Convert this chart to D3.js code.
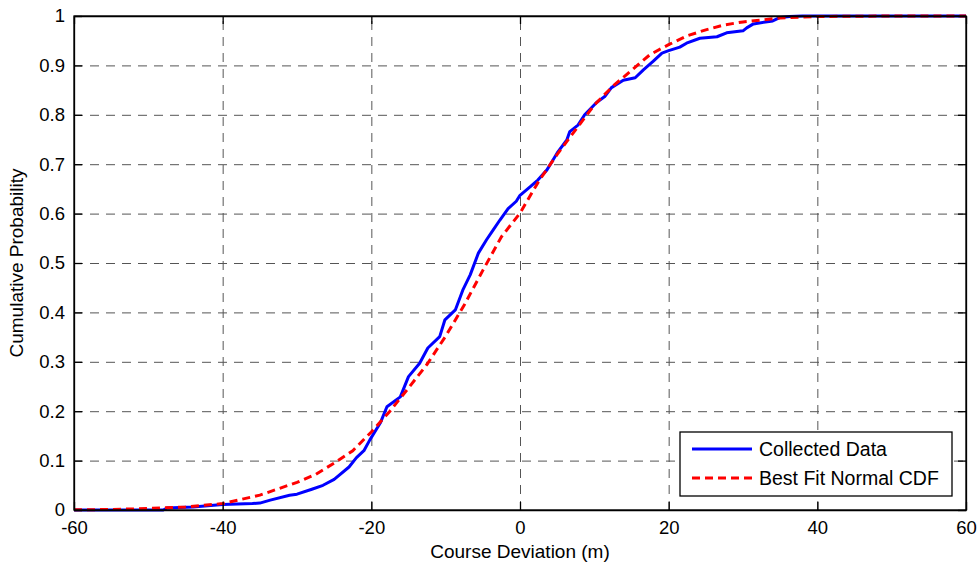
<!DOCTYPE html>
<html>
<head>
<meta charset="utf-8">
<script src="https://cdn.jsdelivr.net/npm/d3@7"></script>
<style>
  body { margin: 0; background: #fff; }
  svg { display: block; font-family: "Liberation Sans", Arial, sans-serif; }
  .grid line { stroke: #555; stroke-dasharray: 9,7; stroke-width: 1; }
  .grid path { display: none; }
  .axis path, .axis line { stroke: #000; stroke-width: 1.3; }
  .axis text { fill: #000; font-size: 18.5px; }
</style>
</head>
<body>
<svg id="chart" width="980" height="566"></svg>
<script>
// collected course deviation ECDF
var dataX = [-60, -48, -47.5, -44, -40, -36, -35, -33.6, -31, -30, -28, -26.5, -25, -23, -22, -21,
    -20.2, -18.8, -17.9, -16.1, -15, -13.5, -12.4, -10.8, -10.1, -8.7, -7.7, -6.7, -5.6, -4.5,
    -3.6, -2.7, -1.6, -0.5, 0, 1.35, 2.4, 3.6, 4.3, 5.1, 6.3, 6.7, 7.8, 8.7, 10.3, 11.4, 12.3,
    13.9, 15.5, 16.6, 17.9, 19.1, 20, 21.5, 22.4, 24.2, 26.5, 27.8, 30, 30.5, 31.4, 34, 35,
    36.3, 38, 60];
var dataY = [0, 0, 0.004, 0.006, 0.011, 0.013, 0.014, 0.02, 0.03, 0.032, 0.042, 0.05, 0.062, 0.087,
    0.106, 0.12, 0.142, 0.176, 0.209, 0.229, 0.27, 0.297, 0.328, 0.351, 0.385, 0.405, 0.445,
    0.476, 0.52, 0.547, 0.567, 0.587, 0.61, 0.625, 0.637, 0.654, 0.668, 0.688, 0.705, 0.725,
    0.749, 0.766, 0.779, 0.8, 0.825, 0.837, 0.855, 0.87, 0.875, 0.891, 0.908, 0.925, 0.93,
    0.937, 0.945, 0.955, 0.958, 0.966, 0.97, 0.976, 0.984, 0.99, 0.997, 0.999, 1, 1];

// best fit normal CDF
var fitX = [-60, -55, -50, -45, -40, -35, -30, -27.5, -25, -22.5, -20, -17.5, -15, -12.5, -10,
    -7.5, -5, -2.5, 0, 2.5, 5, 7.5, 10, 12.5, 15, 17.5, 20, 22.5, 25, 27.5, 30, 35, 40, 50, 60];
var fitY = [0.0003, 0.001, 0.003, 0.006, 0.013, 0.03, 0.056, 0.072, 0.095, 0.12, 0.158, 0.2, 0.247,
    0.295, 0.352, 0.415, 0.485, 0.553, 0.601, 0.665, 0.72, 0.77, 0.82, 0.858, 0.89, 0.922,
    0.942, 0.96, 0.972, 0.982, 0.988, 0.996, 0.999, 1, 1];

var xTicks = [-60, -40, -20, 0, 20, 40, 60];
var yTicks = [0, 0.1, 0.2, 0.3, 0.4, 0.5, 0.6, 0.7, 0.8, 0.9, 1];
var seriesNames = ['Collected Data', 'Best Fit Normal CDF'];

var margin = {top: 16, right: 14, bottom: 56, left: 74};
var svg = d3.select('#chart');
var width = +svg.attr('width') - margin.left - margin.right;
var height = +svg.attr('height') - margin.top - margin.bottom;
var g = svg.append('g').attr('transform', 'translate(' + margin.left + ',' + margin.top + ')');

var x = d3.scaleLinear().domain([-60, 60]).range([0, width]);
var y = d3.scaleLinear().domain([0, 1]).range([height, 0]);

// grid
g.append('g').attr('class', 'grid')
    .attr('transform', 'translate(0,' + height + ')')
    .call(d3.axisBottom(x).tickValues(xTicks).tickSize(-height).tickFormat(''));
g.append('g').attr('class', 'grid')
    .call(d3.axisLeft(y).tickValues(yTicks).tickSize(-width).tickFormat(''));

// lines
var blue = dataX.map(function(d, i) { return [d, dataY[i]]; });
var red = fitX.map(function(d, i) { return [d, fitY[i]]; });
var line = d3.line().x(function(d) { return x(d[0]); }).y(function(d) { return y(d[1]); });

g.append('path').datum(blue).attr('d', line)
    .attr('fill', 'none').attr('stroke', '#0000ff').attr('stroke-width', 3)
    .attr('stroke-linejoin', 'round');
g.append('path').datum(red).attr('d', line)
    .attr('fill', 'none').attr('stroke', '#ff0000').attr('stroke-width', 3)
    .attr('stroke-dasharray', '8,5');

// axes (ticks inside, box all round)
g.append('g').attr('class', 'axis')
    .attr('transform', 'translate(0,' + height + ')')
    .call(d3.axisBottom(x).tickValues(xTicks).tickSizeInner(-8).tickSizeOuter(0)
        .tickPadding(11).tickFormat(function(d) { return String(d); }));
g.append('g').attr('class', 'axis')
    .call(d3.axisLeft(y).tickValues(yTicks).tickSizeInner(-8).tickSizeOuter(0)
        .tickPadding(9).tickFormat(function(d) { return String(d); }));
g.append('g').attr('class', 'axis')
    .call(d3.axisTop(x).tickValues(xTicks).tickSizeInner(-8).tickSizeOuter(0).tickFormat(''));
g.append('g').attr('class', 'axis')
    .attr('transform', 'translate(' + width + ',0)')
    .call(d3.axisRight(y).tickValues(yTicks).tickSizeInner(-8).tickSizeOuter(0).tickFormat(''));
g.append('rect').attr('width', width).attr('height', height)
    .attr('fill', 'none').attr('stroke', '#000').attr('stroke-width', 1.3);

// labels
svg.append('text').attr('x', margin.left + width / 2).attr('y', 558)
    .attr('text-anchor', 'middle').attr('font-size', 19).text('Course Deviation (m)');
svg.append('text').attr('transform', 'translate(23,' + (margin.top + height / 2) + ') rotate(-90)')
    .attr('text-anchor', 'middle').attr('font-size', 19).text('Cumulative Probability');

// legend
var leg = svg.append('g').attr('transform', 'translate(680,432)');
leg.append('rect').attr('width', 272).attr('height', 64)
    .attr('fill', '#fff').attr('stroke', '#000').attr('stroke-width', 1.3);
var legStyles = [{c: '#0000ff', dash: null}, {c: '#ff0000', dash: '8,5'}];
seriesNames.forEach(function(name, i) {
    var yy = 17 + i * 29;
    leg.append('line').attr('x1', 12).attr('x2', 72).attr('y1', yy).attr('y2', yy)
        .attr('stroke', legStyles[i].c).attr('stroke-width', 3)
        .attr('stroke-dasharray', legStyles[i].dash);
    leg.append('text').attr('x', 79).attr('y', yy).attr('dy', '0.35em')
        .attr('font-size', 19.5).text(name);
});
</script>
</body>
</html>
